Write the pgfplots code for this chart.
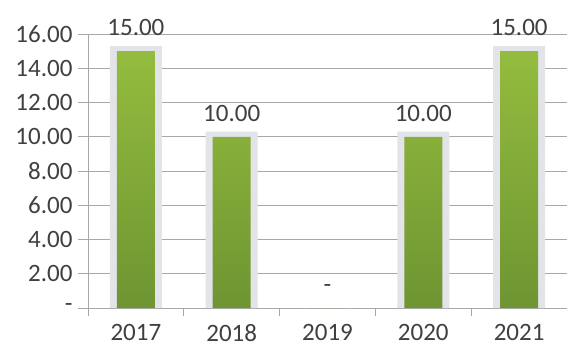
\documentclass[border=0pt]{standalone}
\usepackage{pgfplots}
\pgfplotsset{compat=1.18}
\usepackage{fontspec}
\setmainfont{Carlito}
\definecolor{bartop}{HTML}{94BC3E}
\definecolor{barbot}{HTML}{6E9532}
\definecolor{halo}{HTML}{E2E4EA}
\definecolor{gridc}{HTML}{A8A8A8}
\definecolor{txt}{HTML}{404040}
\begin{document}
\begin{tikzpicture}
\begin{axis}[
  scale only axis,
  width=479bp, height=274bp,
  xmin=-0.5, xmax=4.5,
  ymin=0, ymax=16,
  axis x line*=bottom,
  axis y line*=left,
  axis line style={gridc, line width=1pt},
  ymajorgrids,
  major grid style={gridc, line width=1pt},
  xtick={0,1,2,3,4},
  xticklabels={2017,2018,2019,2020,2021},
  minor xtick={-0.5,0.5,1.5,2.5,3.5,4.5},
  major x tick style={draw=none},
  ytick={0,2,...,16},
  yticklabels={-,2.00,4.00,6.00,8.00,10.00,12.00,14.00,16.00},
  tick align=outside,
  major tick length=10bp,
  minor tick length=8bp,
  tick style={gridc, line width=1pt},
  every tick label/.append style={font=\fontsize{25bp}{28bp}\selectfont, text=txt},
  xticklabel style={yshift=-3bp},
  yticklabel style={xshift=-2bp},
  clip=false,
  point meta=explicit symbolic,
  nodes near coords,
  every node near coord/.append style={font=\fontsize{25bp}{28bp}\selectfont, text=txt, anchor=south, yshift=12bp},
]
\addplot[ybar, bar width=52bp, fill=halo, draw=none, nodes near coords={}] coordinates {(0,15.3) (1,10.3) (2,0) (3,10.3) (4,15.3)};
\addplot[ybar, bar width=38bp, draw=none, top color=bartop, bottom color=barbot] coordinates {(0,15)[15.00] (1,10)[10.00] (2,0)[-] (3,10)[10.00] (4,15)[15.00]};
\end{axis}
\path (current axis.south west) ++(-88bp,-48bp) coordinate (bl);
\path (current axis.north east) ++(0bp,34bp) coordinate (tr);
\pgfresetboundingbox
\path[use as bounding box] (bl) rectangle (tr);
\end{tikzpicture}
\end{document}
